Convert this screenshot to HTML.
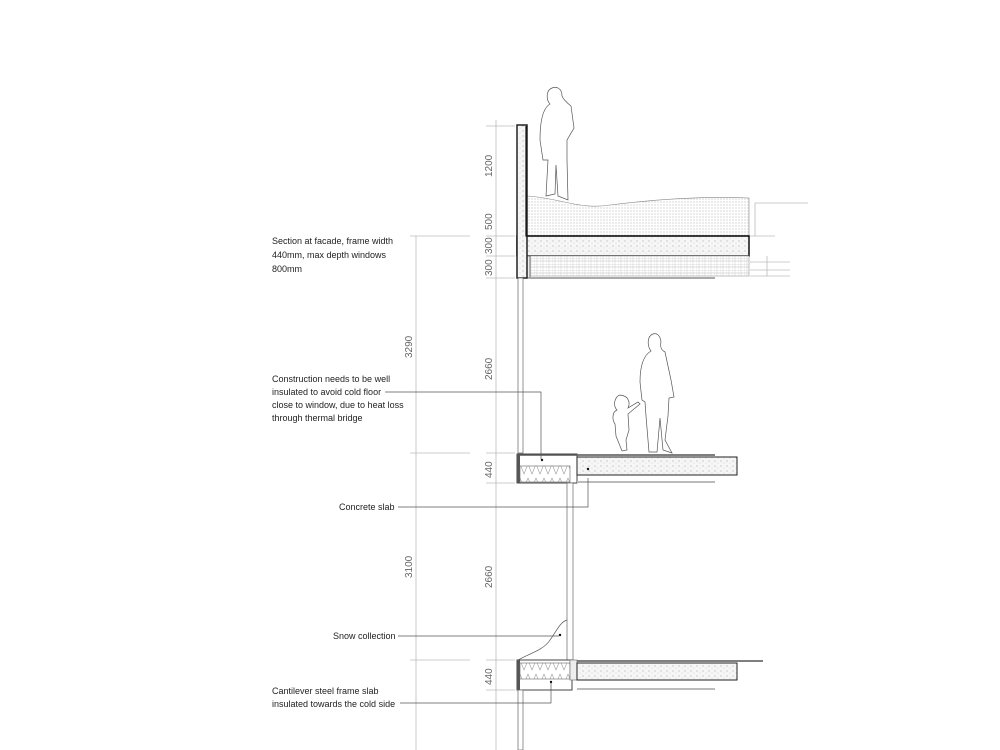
<!DOCTYPE html>
<html><head><meta charset="utf-8"><style>
html,body{margin:0;padding:0;background:#fff}
svg{display:block}
text{font-family:"Liberation Sans",sans-serif;font-size:9px;fill:#222}
.d{font-size:10px;fill:#666}
</style></head><body>
<svg width="1000" height="750" viewBox="0 0 1000 750">
<defs>
<pattern id="dots" width="3" height="3" patternUnits="userSpaceOnUse"><rect width="3" height="3" fill="#fff"/><circle cx="1" cy="1" r="0.5" fill="#999"/></pattern>
<pattern id="conc" width="6" height="5" patternUnits="userSpaceOnUse"><rect width="6" height="5" fill="#f6f6f6"/><circle cx="1" cy="1" r="0.5" fill="#888"/><circle cx="4" cy="3" r="0.4" fill="#aaa"/></pattern>
<pattern id="ins" width="6" height="6" patternUnits="userSpaceOnUse"><rect width="6" height="6" fill="#fff"/><path d="M0 0H6M0 3H6" stroke="#bbb" stroke-width="0.5"/><path d="M0 0V6M3 0V6" stroke="#ccc" stroke-width="0.5"/></pattern>
<pattern id="zig" width="8" height="14" patternUnits="userSpaceOnUse"><rect width="8" height="14" fill="#fff"/><path d="M0 2L4 12L8 2" fill="none" stroke="#999" stroke-width="0.6"/></pattern>
</defs>
<g stroke="#bbb" stroke-width="0.8" fill="none">
<line x1="416" y1="236" x2="416" y2="750"/>
<line x1="496" y1="120" x2="496" y2="750"/>
<line x1="410" y1="236" x2="470" y2="236"/>
<line x1="410" y1="453" x2="470" y2="453"/>
<line x1="410" y1="660" x2="470" y2="660"/>
<line x1="486" y1="126" x2="515" y2="126"/>
<line x1="486" y1="236" x2="515" y2="236"/>
<line x1="486" y1="256" x2="515" y2="256"/>
<line x1="486" y1="278" x2="515" y2="278"/>
<line x1="486" y1="453" x2="515" y2="453"/>
<line x1="486" y1="483" x2="515" y2="483"/>
<line x1="486" y1="660" x2="515" y2="660"/>
<line x1="486" y1="690" x2="515" y2="690"/>
<line x1="755" y1="203" x2="808" y2="203"/>
<line x1="755" y1="203" x2="755" y2="236"/>
<line x1="750" y1="236" x2="775" y2="236"/>
<line x1="767" y1="256" x2="767" y2="276"/>
<line x1="750" y1="262" x2="790" y2="262"/>
<line x1="750" y1="270" x2="790" y2="270"/>
<line x1="750" y1="276" x2="790" y2="276"/>
</g>
<g class="d">
<text class="d" transform="translate(492,177) rotate(-90)">1200</text>
<text class="d" transform="translate(492,230) rotate(-90)">500</text>
<text class="d" transform="translate(492,254) rotate(-90)">300</text>
<text class="d" transform="translate(492,276) rotate(-90)">300</text>
<text class="d" transform="translate(492,380) rotate(-90)">2660</text>
<text class="d" transform="translate(492,478) rotate(-90)">440</text>
<text class="d" transform="translate(492,588) rotate(-90)">2660</text>
<text class="d" transform="translate(492,685) rotate(-90)">440</text>
<text class="d" transform="translate(412,358) rotate(-90)">3290</text>
<text class="d" transform="translate(412,578) rotate(-90)">3100</text>
</g>
<path d="M527 196 C560 198,580 210,610 205 C650 200,700 196,749 198 L749 236 L527 236 Z" fill="url(#dots)" stroke="#888" stroke-width="0.6"/>
<rect x="517" y="236" width="232" height="20" fill="url(#conc)" stroke="#111" stroke-width="1.5"/>
<rect x="530" y="256" width="219" height="20" fill="url(#ins)" stroke="#999" stroke-width="0.6"/>
<rect x="517" y="256" width="13" height="22" fill="#eee" stroke="#555" stroke-width="0.8"/>
<line x1="530" y1="278" x2="715" y2="278" stroke="#aaa" stroke-width="2"/>
<rect x="517" y="125" width="10" height="153" fill="url(#conc)" stroke="#222" stroke-width="1.5"/>
<path d="M526 126 V236 H749" fill="none" stroke="#111" stroke-width="1.2"/>
<rect x="518" y="278" width="5" height="175" fill="#fff" stroke="#666" stroke-width="0.7"/>
<rect x="517" y="454" width="60" height="29" fill="#fff" stroke="#444" stroke-width="1"/>
<rect x="517" y="454" width="3" height="29" fill="#555"/>
<rect x="520" y="466" width="50" height="16" fill="url(#zig)" stroke="#666" stroke-width="0.6"/>
<line x1="520" y1="455" x2="715" y2="455" stroke="#555" stroke-width="1.5"/>
<rect x="577" y="457" width="160" height="18" fill="url(#conc)" stroke="#222" stroke-width="1"/>
<line x1="577" y1="482" x2="715" y2="482" stroke="#bbb" stroke-width="2"/>
<rect x="567" y="483" width="6" height="177" fill="#fff" stroke="#666" stroke-width="0.7"/>
<rect x="517" y="660" width="55" height="30" fill="#fff" stroke="#444" stroke-width="1"/>
<rect x="517" y="660" width="3" height="30" fill="#555"/>
<rect x="520" y="663" width="50" height="16" fill="url(#zig)" stroke="#666" stroke-width="0.6"/>
<rect x="570" y="660" width="7" height="20" fill="#eee" stroke="#666" stroke-width="0.6"/>
<line x1="577" y1="661" x2="763" y2="661" stroke="#555" stroke-width="1.5"/>
<rect x="577" y="663" width="160" height="17" fill="url(#conc)" stroke="#222" stroke-width="1"/>
<line x1="577" y1="689" x2="715" y2="689" stroke="#bbb" stroke-width="2"/>
<rect x="518" y="690" width="5" height="60" fill="#fff" stroke="#666" stroke-width="0.7"/>
<g stroke="#555" stroke-width="0.7" fill="none">
<path d="M385 392 H541 V459"/>
<path d="M398 507 H588 V478"/>
<path d="M398 636 H559"/>
<path d="M567 620 C560 622,556 632,550 640 C544 650,528 654,518 660"/>
<path d="M400 703 H551 V683"/>
</g>
<g fill="#111"><circle cx="542" cy="460" r="1.2"/><circle cx="588" cy="469" r="1.2"/><circle cx="560" cy="635" r="1.2"/><circle cx="551" cy="682" r="1.2"/></g>
<g fill="#fff" stroke="#555" stroke-width="0.7">
<path d="M552 88 C546 90,546 100,550 104 C543 108,540 120,540 140 L543 160 L548 160 L546 196 L555 194 L556 165 L558 196 L568 200 L567 160 L567 140 L574 128 L571 106 C566 102,563 99,562 96 C562 88,556 86,552 88 Z"/>
<path d="M653 334 C647 336,647 346,651 351 C644 355,640 365,640 382 L642 400 L645 402 L646 416 L649 452 L657 452 L660 418 L663 450 L672 453 L665 440 L668 416 L669 398 L674 397 L671 380 L665 352 C661 350,660 346,661 342 C660 334,656 333,653 334 Z"/>
<path d="M620 395 C614 397,613 406,617 410 C612 412,612 420,615 424 L616 436 L620 446 L622 451 L627 450 L626 440 L629 430 L628 414 L640 404 L638 402 L628 408 C630 404,630 396,620 395 Z"/>
</g>
<text x="272" y="244">Section at facade, frame width</text>
<text x="272" y="258">440mm, max depth windows</text>
<text x="272" y="272">800mm</text>
<text x="272" y="382">Construction needs to be well</text>
<text x="272" y="395">insulated to avoid cold floor</text>
<text x="272" y="408">close to window, due to heat loss</text>
<text x="272" y="421">through thermal bridge</text>
<text x="339" y="510">Concrete slab</text>
<text x="333" y="639">Snow collection</text>
<text x="272" y="694">Cantilever steel frame slab</text>
<text x="272" y="707">insulated towards the cold side</text>
</svg>
</body></html>
